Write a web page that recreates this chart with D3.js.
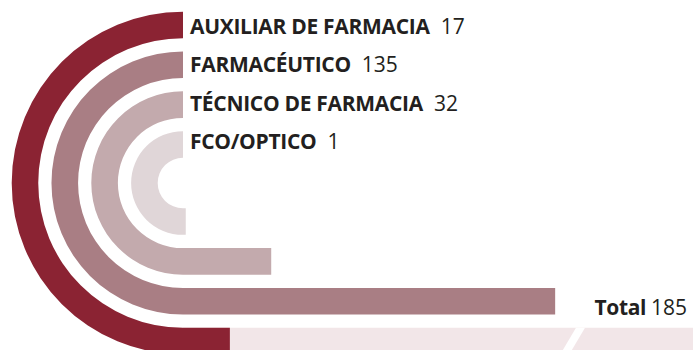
<!DOCTYPE html>
<html>
<head>
<meta charset="utf-8">
<script src="https://cdn.jsdelivr.net/npm/d3@7/dist/d3.min.js"></script>
<style>
  html, body { margin: 0; padding: 0; background: #fff; }
  svg { display: block; }
  text { font-family: "Open Sans", "Noto Sans", sans-serif; fill: #231f20; }
</style>
</head>
<body>
<svg id="chart" width="693" height="350"></svg>
<script>
// Personal by category
const categories = ["AUXILIAR DE FARMACIA", "FARMACÉUTICO", "TÉCNICO DE FARMACIA", "FCO/OPTICO"];
const values = [17, 135, 32, 1];
const colors = ["#8b2333", "#a97e84", "#c3aaad", "#e0d6d8"];
const totalLabel = "Total";
const total = 185;

const width = 693, height = 350;
const cx = 183, cy = 183;

const svg = d3.select("#chart");

// ring radii: one band per category, outermost first
const ring = d3.scaleBand()
  .domain(categories)
  .range([171.3, 25.3])
  .paddingInner(0.333);

// straight tail length along the bottom, measured from the centre line
const x = d3.scaleLinear().domain([0, total]).range([cx, width]);

const bw = ring.bandwidth();

// Total track behind the outermost ring's tail
const r0 = ring(categories[0]);
svg.append("rect")
  .attr("x", x(0)).attr("y", cy + r0)
  .attr("width", x(total) - x(0)).attr("height", bw)
  .attr("fill", "#f2e6e8");

function ringPath(rIn, rOut, xEnd) {
  const p = d3.path();
  p.moveTo(cx, cy - rOut);
  p.arc(cx, cy, rOut, -Math.PI / 2, Math.PI / 2, true);
  p.lineTo(xEnd, cy + rOut);
  p.lineTo(xEnd, cy + rIn);
  p.lineTo(cx, cy + rIn);
  p.arc(cx, cy, rIn, Math.PI / 2, -Math.PI / 2, false);
  p.closePath();
  return p.toString();
}

svg.selectAll("path.ring")
  .data(categories)
  .join("path")
  .attr("class", "ring")
  .attr("d", (d, i) => {
    const rIn = ring(d);
    return ringPath(rIn, rIn + bw, x(values[i]));
  })
  .attr("fill", (d, i) => colors[i]);

// break mark across the Total track
const yTop = cy + r0, yBot = cy + r0 + bw;
const bx = 576, slope = 0.59, gap = 9;
svg.append("polygon")
  .attr("points", [
    [bx, yTop], [bx + gap, yTop],
    [bx + gap - slope * bw, yBot], [bx - slope * bw, yBot]
  ].map(p => p.join(",")).join(" "))
  .attr("fill", "#fff");

// category labels with values
const lab = svg.selectAll("text.lab")
  .data(categories)
  .join("text")
  .attr("class", "lab")
  .attr("x", 190)
  .attr("y", (d, i) => 34 + i * 38.4)
  .style("font-size", "21px");
lab.append("tspan").attr("font-weight", 700).attr("letter-spacing", "-0.3").text(d => d);
lab.append("tspan").attr("dx", 11).attr("font-weight", 400).text((d, i) => values[i]);

// total
const tot = svg.append("text")
  .attr("x", 687).attr("y", 315)
  .attr("text-anchor", "end")
  .style("font-size", "21px");
tot.append("tspan").attr("font-weight", 700).attr("letter-spacing", "-0.4").text(totalLabel);
tot.append("tspan").attr("dx", 5).attr("font-weight", 400).text(total);
</script>
</body>
</html>
